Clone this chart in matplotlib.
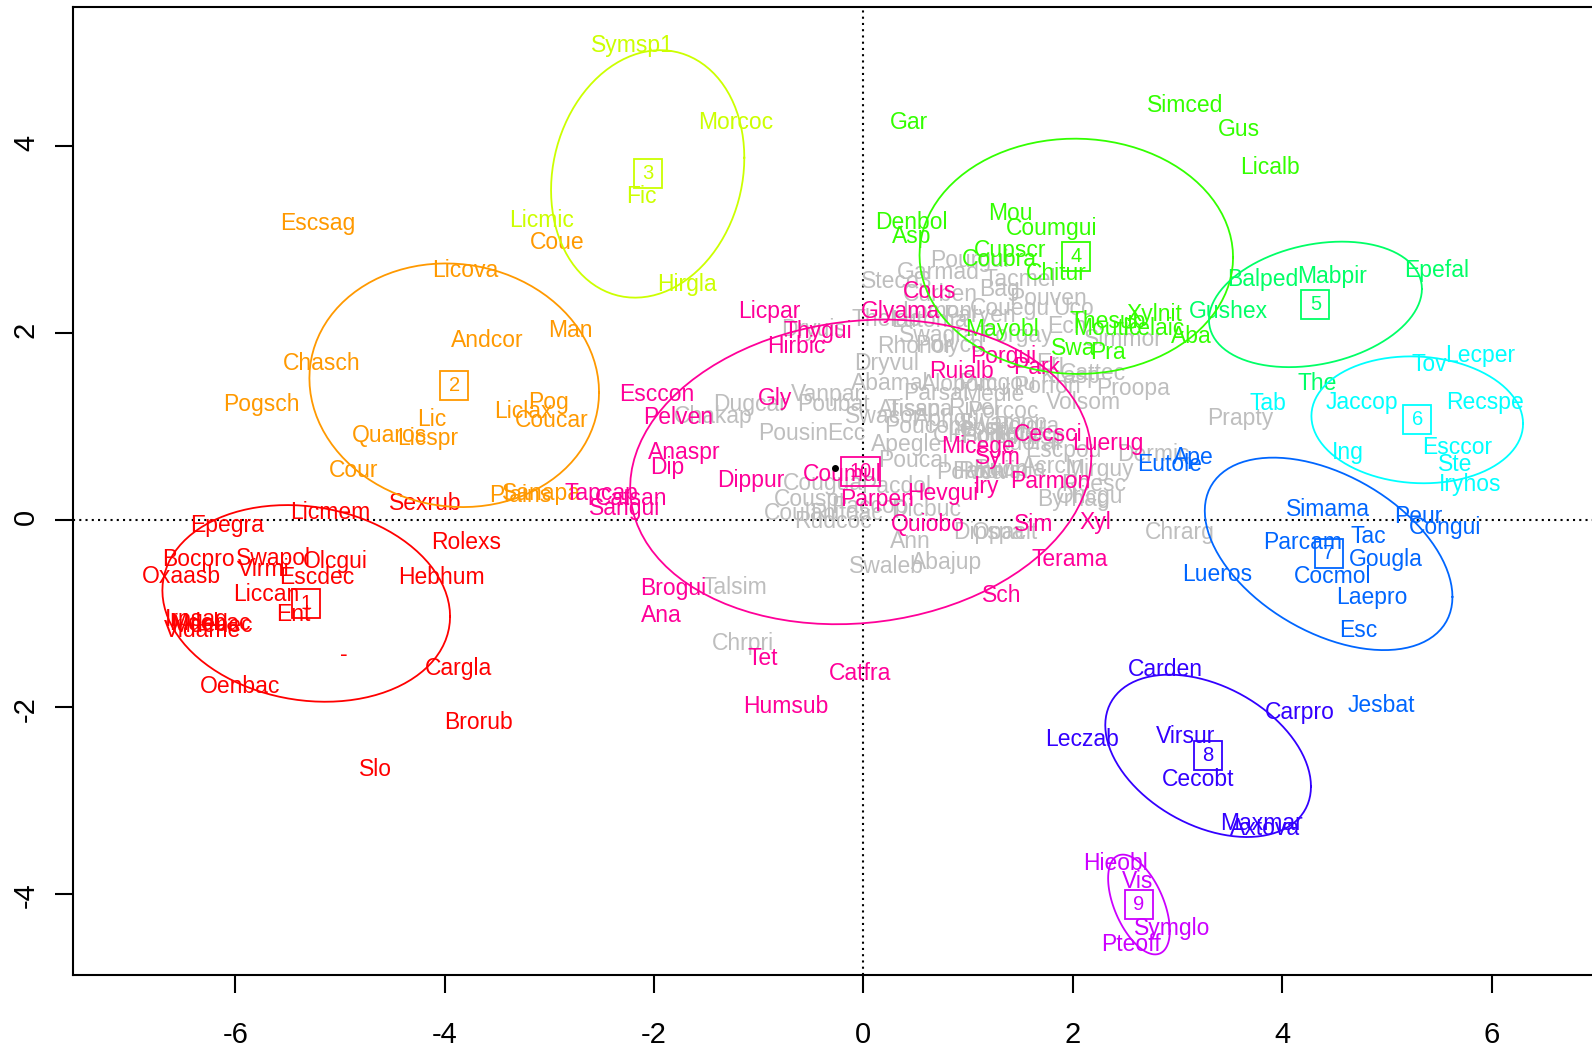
import numpy as np
import matplotlib
matplotlib.use("Agg")
import matplotlib.pyplot as plt
import matplotlib.transforms as mtransforms
from matplotlib.patches import Rectangle

plt.rcParams['font.family'] = ['Liberation Sans', 'DejaVu Sans']
plt.rcParams['axes.unicode_minus'] = False

# ---- species scores, one set per class
g1_names = ["Sexrub", "Licmem", "Epegra", "Rolexs", "Bocpro", "Swapol", "Olcgui", "Virmi",
            "Oxaasb", "Escdec", "Hebhum", "Liccan", "Ent", "Irpsag", "Mdebac", "Vidame",
            "Mdenec", "-", "Cargla", "Oenbac", "Brorub", "Slo"]
g1_x = [-4.188, -5.089, -6.082, -3.791, -6.353, -5.637, -5.048, -5.732, -6.512, -5.223,
        -4.029, -5.700, -5.446, -6.363, -6.242, -6.312, -6.22, -4.959, -3.863, -5.955,
        -3.675, -4.656]
g1_y = [0.175, 0.079, -0.064, -0.246, -0.431, -0.420, -0.449, -0.538, -0.610, -0.616,
        -0.616, -0.798, -1.019, -1.065, -1.115, -1.187, -1.13, -1.440, -1.589, -1.786,
        -2.167, -2.677]

g2_names = ["Escsag", "Licova", "Andcor", "Chasch", "Pogsch", "Lic", "Quaros", "Licspr",
            "Cour", "Coue", "Man", "Pog", "Liclax", "Coucar", "Plains", "Sanapa"]
g2_x = [-5.213, -3.806, -3.593, -5.175, -5.748, -4.124, -4.522, -4.157, -4.873, -2.924,
        -2.803, -3.010, -3.249, -2.978, -3.280, -3.073]
g2_y = [3.163, 2.663, 1.921, 1.672, 1.237, 1.074, 0.899, 0.863, 0.524, 2.963, 2.027,
        1.251, 1.155, 1.056, 0.257, 0.275]

g3_names = ["Symsp1", "Morcoc", "Fic", "Licmic", "Hirgla"]
g3_x = [-2.204, -1.218, -2.119, -3.071, -1.689]
g3_y = [5.069, 4.253, 3.455, 3.195, 2.518]

g4_names = ["Gar", "Simced", "Gus", "Licalb", "Denbol", "Asp", "Mou", "Coumgui", "Cupscr",
            "Coubra", "Chitur", "Xylnit", "Thesub", "Moutic", "Pelaic", "Aba", "Mayobl",
            "Swa", "Pra"]
g4_x = [0.435, 3.071, 3.583, 3.883, 0.460, 0.460, 1.406, 1.797, 1.399, 1.297, 1.839,
        2.784, 2.338, 2.323, 2.768, 3.135, 1.320, 2.004, 2.338]
g4_y = [4.250, 4.435, 4.168, 3.765, 3.181, 3.027, 3.277, 3.112, 2.884, 2.778, 2.635,
        2.189, 2.118, 2.047, 2.047, 1.957, 2.029, 1.833, 1.786]

g5_names = ["Balped", "Mabpir", "Epefal", "Gushex", "The"]
g5_x = [3.819, 4.472, 5.475, 3.489, 4.334]
g5_y = [2.564, 2.599, 2.660, 2.230, 1.459]

g6_names = ["Tov", "Lecper", "Tab", "Jaccop", "Recspe", "Ing", "Esccor", "Ste", "Iryhos"]
g6_x = [5.401, 5.895, 3.860, 4.764, 5.936, 4.631, 5.675, 5.656, 5.793]
g6_y = [1.655, 1.751, 1.245, 1.256, 1.256, 0.721, 0.770, 0.585, 0.371]

g7_names = ["Simama", "Peur", "Congui", "Tac", "Parcam", "Gougla", "Cocmol", "Laepro",
            "Esc", "Lueros", "Eutole", "Ape", "Jesbat"]
g7_x = [4.439, 5.299, 5.554, 4.821, 4.195, 4.990, 4.481, 4.854, 4.726, 3.379, 2.927,
        3.150, 4.952]
g7_y = [0.104, 0.032, -0.086, -0.182, -0.242, -0.424, -0.610, -0.834, -1.190, -0.588,
        0.585, 0.667, -1.989]

g8_names = ["Carden", "Carpro", "Leczab", "Virsur", "Cecobt", "Maxmar", "Axtova"]
g8_x = [2.880, 4.167, 2.085, 3.079, 3.200, 3.801, 3.837]
g8_y = [-1.607, -2.060, -2.349, -2.321, -2.784, -3.255, -3.308]

g9_names = ["Hieobl", "Vis", "Symglo", "Pteoff"]
g9_x = [2.410, 2.620, 2.946, 2.553]
g9_y = [-3.675, -3.871, -4.370, -4.549]

g10_names = ["Licpar", "Thygui", "Hirbic", "Glyama", "Cous", "Porgui", "Park", "Ruialb",
             "Cecsci", "Luerug", "Micege", "Sym", "Parmon", "Iry", "Hevgui", "Parpen",
             "Quiobo", "Sim", "Xyl", "Terama", "Sch", "Catfra", "Humsub", "Tet", "Ana",
             "Brogui", "Esccon", "Pelven", "Gly", "Anaspr", "Dip", "Dippur", "Coumul",
             "Catsan", "Sangui", "Tapcap"]
g10_x = [-0.900, -0.432, -0.638, 0.349, 0.635, 1.335, 1.654, 0.938, 1.765, 2.338, 1.096,
         1.287, 1.781, 1.177, 0.762, 0.129, 0.619, 1.622, 2.211, 1.972, 1.320, -0.033,
         -0.740, -0.957, -1.927, -1.817, -1.975, -1.769, -0.845, -1.714, -1.874, -1.077,
         -0.200, -2.214, -2.278, -2.500]
g10_y = [2.225, 2.011, 1.850, 2.225, 2.439, 1.743, 1.630, 1.583, 0.906, 0.817, 0.781,
         0.663, 0.406, 0.353, 0.275, 0.218, -0.057, -0.057, -0.032, -0.431, -0.813,
         -1.641, -2.000, -1.482, -1.030, -0.734, 1.344, 1.095, 1.298, 0.717, 0.560,
         0.414, 0.478, 0.229, 0.122, 0.282]

# species not assigned to a class (grey)
grey_names = ["Dugcar", "Chakap", "Vanpar", "Poubat", "Pousin", "Ecc", "Talsim", "Chrpri",
              "Dryuis", "Cougua", "Couspi", "Coulan", "Rudcoc", "Rufoac", "Paccop", "Dicbuc",
              "Swaleb", "Abajup", "Ann", "Dipspa", "Opacit", "Poucai", "Pacdol", "Apegle",
              "Byrhag", "Oricgu", "Acrcln", "Pouvin", "Mirguy", "Roesc", "Chrarg", "Prapty",
              "Dermic", "Proopa", "Volsom", "Cattec", "Dryvul", "Abamal", "Swacor", "Atisan",
              "Steco3", "Garmad", "Pourgui", "Tacmel", "Bag", "Curben", "Pouven", "Couegu",
              "Uco", "Lomoni", "Thelab", "Lutoma", "Paryen", "Swagra", "Porgay", "Ech",
              "Simmor", "Rhonor", "Polycd", "Eri", "Krasp", "Alopom", "Pucgou", "Porfon",
              "Parsat", "Medie", "Tisspa", "Rivel", "Porcoc", "Aphgui", "Poucom", "Swamon",
              "Polgra", "Porlip", "Ruoral", "Escpou", "Fabhis", "Ruopla", "Cluspo", "Ptefer",
              "Lepsp", "Tursp", "Polvca"]
grey_x = [-1.084, -1.435, -0.351, -0.288, -0.670, -0.160, -1.227, -1.148, -0.479, -0.384,
          -0.511, -0.606, -0.288, -0.160, 0.062, 0.604, 0.221, 0.795, 0.444, 1.200, 1.350,
          0.476, 0.317, 0.413, 2.004, 2.163, 1.813, 1.240, 2.259, 2.195, 3.023, 3.596,
          2.768, 2.577, 2.099, 2.195, 0.221, 0.253, 0.189, 0.444, 0.317, 0.714, 1.017,
          1.495, 1.304, 0.731, 1.765, 1.399, 2.004, 0.731, 0.221, 0.635, 1.113, 0.714,
          1.463, 1.941, 2.481, 0.492, 0.826, 1.781, 1.972, 0.922, 1.272, 1.750, 0.699,
          1.240, 0.540, 1.049, 1.335, 0.826, 0.604, 1.335, 1.559, 1.208, 1.559, 1.908,
          1.177, 1.399, 1.000, 1.450, 1.100, 1.650, 1.020]
grey_y = [1.227, 1.102, 1.334, 1.227, 0.924, 0.924, -0.723, -1.329, 2.029, 0.389, 0.211,
          0.068, -0.021, 0.068, 0.139, 0.104, -0.503, -0.460, -0.235, -0.139, -0.139,
          0.631, 0.353, 0.799, 0.211, 0.246, 0.567, 0.513, 0.532, 0.371, -0.139, 1.077,
          0.692, 1.398, 1.256, 1.566, 1.673, 1.459, 1.102, 1.173, 2.546, 2.642, 2.770,
          2.564, 2.457, 2.403, 2.368, 2.261, 2.261, 2.225, 2.136, 2.128, 2.179, 1.965,
          1.965, 2.064, 1.922, 1.850, 1.868, 1.673, 1.529, 1.441, 1.451, 1.423, 1.352,
          1.334, 1.173, 1.191, 1.155, 1.066, 0.995, 1.031, 0.995, 0.888, 0.817, 0.745,
          0.513, 0.532, 0.900, 0.920, 0.980, 0.880, 0.500]

origin_pt = (-0.272, 0.556)

groups = [(g1_names, g1_x, g1_y), (g2_names, g2_x, g2_y), (g3_names, g3_x, g3_y),
          (g4_names, g4_x, g4_y), (g5_names, g5_x, g5_y), (g6_names, g6_x, g6_y),
          (g7_names, g7_x, g7_y), (g8_names, g8_x, g8_y), (g9_names, g9_x, g9_y),
          (g10_names, g10_x, g10_y)]
class_labels = [str(i) for i in range(1, 11)]
# rainbow(10)
colors = ['#FF0000', '#FF9900', '#CCFF00', '#33FF00', '#00FF66',
          '#00FFFF', '#0066FF', '#3300FF', '#CC00FF', '#FF0099']
grey = '#BEBEBE'
cellipse = 1.5

fig = plt.figure(figsize=(15.92, 10.49), dpi=100)
ax = fig.add_axes([0.0460, 0.0703, 0.9764, 0.9230])
ax.set_xlim(-7.547, 7.3)
ax.set_ylim(-4.873, 5.483)

ax.axhline(0, color='black', ls=(0, (1, 2)), lw=1.5, zorder=1)
ax.axvline(0, color='black', ls=(0, (1, 2)), lw=1.5, zorder=1)

fs = 16.5
for n, x, y in zip(grey_names, grey_x, grey_y):
    ax.text(x, y, n, color=grey, fontsize=fs, ha='center', va='center', zorder=2)

t = np.linspace(0, 2 * np.pi, 101)
for (names, xs, ys), lab, col in zip(groups, class_labels, colors):
    xs = np.array(xs)
    ys = np.array(ys)
    for n, x, y in zip(names, xs, ys):
        ax.text(x, y, n, color=col, fontsize=fs, ha='center', va='center', zorder=3)
    # class ellipse (population covariance, cellipse = 1.5)
    cx, cy = xs.mean(), ys.mean()
    sx, sy = xs.std(), ys.std()
    r = np.mean((xs - cx) * (ys - cy)) / (sx * sy)
    ex = cx + cellipse * sx * np.cos(t)
    ey = cy + cellipse * sy * (r * np.cos(t) + np.sqrt(1 - r ** 2) * np.sin(t))
    ax.plot(ex, ey, color=col, lw=1.3, zorder=4)
    # class label in a box
    ax.text(cx, cy, lab, color=col, fontsize=14.5, ha='center', va='center', zorder=5)
    w = (0.17 + 0.11 * len(lab))
    h = 0.29
    trans = fig.dpi_scale_trans + mtransforms.ScaledTranslation(cx, cy, ax.transData)
    ax.add_patch(Rectangle((-w / 2, -h / 2), w, h, transform=trans, fill=False,
                           ec=col, lw=1.3, zorder=5))

ax.plot(origin_pt[0], origin_pt[1], 'o', color='black', ms=4, zorder=6)

ax.set_xticks(range(-6, 7, 2))
ax.set_yticks(range(-4, 5, 2))
ax.tick_params(direction='out', length=13, width=1.5, labelsize=21)
ax.tick_params(axis='x', pad=20)
ax.tick_params(axis='y', pad=11, labelrotation=90)
for sp in ax.spines.values():
    sp.set_linewidth(1.5)

fig.savefig('out.png', dpi=100)
